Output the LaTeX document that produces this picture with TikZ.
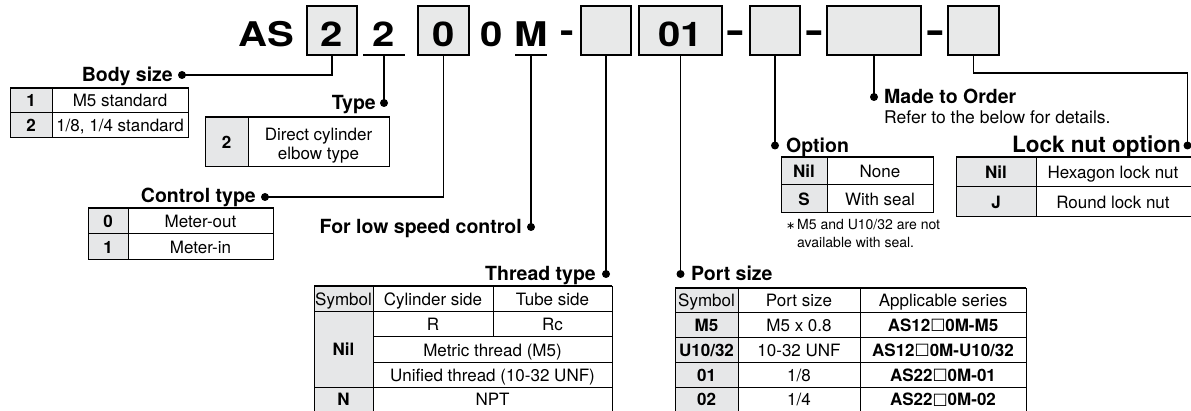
\documentclass[tikz,border=0pt]{standalone}
\usepackage{fontspec}
\setmainfont{TeX Gyre Heros}
\newfontfamily\symf{DejaVu Sans}
\definecolor{boxgray}{HTML}{E8E9E9}
\definecolor{cellgray}{HTML}{E6E7E8}
\newcounter{tn}
\newcommand\tx[4]{\stepcounter{tn}\node[#1,anchor=base] (tx\thetn) at (#2,{#3+6.1}) {#4};}
\newcommand\sq{{\symf\fontsize{16}{16}\selectfont\raisebox{1.6pt}{\char"25A1}}}
\begin{document}
\begin{tikzpicture}[x=1pt,y=-1pt,line join=miter,
  hbox/.style={draw,line width=2.4pt,fill=boxgray,inner sep=0,outer sep=0},
  conn/.style={line width=1.7pt},
  dotn/.style={circle,fill,inner sep=0,minimum size=8pt},
  ttl/.style={font=\fontsize{19.5}{22}\selectfont\bfseries,inner sep=0},
  big/.style={font=\fontsize{34}{34}\selectfont\bfseries,inner sep=0,anchor=base},
  tbl/.style={font=\fontsize{17}{20}\selectfont,inner sep=0},
  tblb/.style={font=\fontsize{17}{20}\selectfont\bfseries,inner sep=0},
  sml/.style={font=\fontsize{14}{16}\selectfont,inner sep=0},
  tline/.style={line width=1pt},
  ttop/.style={line width=2pt}]
\useasboundingbox (0,0) rectangle (1191,411);

% ---------- header ----------
\node[hbox,minimum width=50pt,minimum height=49pt] (b2) at (332,30.5) {};
\node[hbox,minimum width=51pt,minimum height=49pt] (b0) at (443.5,30.5) {};
\node[hbox,minimum width=50pt,minimum height=49pt] (e1) at (606,30.5) {};
\node[hbox,minimum width=83pt,minimum height=49pt] (b01) at (680.5,30.5) {};
\node[hbox,minimum width=50pt,minimum height=49pt] (e2) at (775,30.5) {};
\node[hbox,minimum width=94pt,minimum height=49pt] (e3) at (874,30.5) {};
\node[hbox,minimum width=51pt,minimum height=49pt] (e4) at (973.5,30.5) {};

\node[big] (tAS) at (266.5,47) {\scalebox{1.18}[1]{AS}};
\node[big] (t2a) at (332,47) {\scalebox{1.18}[1]{2}};
\node[big] (t2b) at (384,47) {\scalebox{1.18}[1]{2}};
\node[big] (t0a) at (443.5,47) {\scalebox{1.18}[1]{0}};
\node[big] (t0b) at (492,47) {\scalebox{1.18}[1]{0}};
\node[big] (tM) at (531,47) {\scalebox{1.18}[1]{M}};
\node[big] (t01) at (680.5,47) {\scalebox{1.18}[1]{01}};
\node[big] (h1) at (567.5,43) {\scalebox{1.2}[1]{-}};
\node[big] (h2) at (735.5,43) {\scalebox{1.6}[1]{-}};
\node[big] (h3) at (814.5,43) {\scalebox{1.6}[1]{-}};
\node[big] (h4) at (935.5,43) {\scalebox{1.6}[1]{-}};

\coordinate (u2a) at (363,55.5); \coordinate (u2b) at (405,55.5); \coordinate (u2) at (384,55.5);
\coordinate (uMa) at (515,55.5); \coordinate (uMb) at (547,55.5); \coordinate (uM) at (531,55.5);
\draw[line width=2pt] (u2a) -- (u2b);
\draw[line width=2pt] (uMa) -- (uMb);

% ---------- dots ----------
\node[dotn] (dBody) at (182,75) {};
\node[dotn] (dType) at (384,103) {};
\node[dotn] (dCtrl) at (265,197) {};
\node[dotn] (dLow) at (531,227) {};
\node[dotn] (dThread) at (606,274) {};
\node[dotn] (dPort) at (680.5,274) {};
\node[dotn] (dOpt) at (775,145.5) {};
\node[dotn] (dMade) at (874,97) {};
\node[dotn] (dLock) at (1187.5,145.5) {};
\coordinate (cLock) at (1187.5,73);

% ---------- connectors ----------
\draw[conn] (b2.south) |- (dBody.center);
\draw[conn] (u2) -- (dType.center);
\draw[conn] (b0.south) |- (dCtrl.center);
\draw[conn] (uM) -- (dLow.center);
\draw[conn] (e1.south) -- (dThread.center);
\draw[conn] (b01.south) -- (dPort.center);
\draw[conn] (e2.south) -- (dOpt.center);
\draw[conn] (e3.south) -- (dMade.center);
\draw[conn] (e4.south) |- (cLock) -- (dLock.center);

% ---------- titles ----------
\node[ttl,anchor=base east] (lBody) at (173,82) {Body size};
\node[ttl,anchor=base east] (lType) at (376,110) {Type};
\node[ttl,anchor=base east] (lCtrl) at (256,203) {Control type};
\node[ttl,anchor=base east] (lLow) at (522,233.5) {For low speed control};
\node[ttl,anchor=base east] (lThread) at (596,281) {Thread type};
\node[ttl,anchor=base west] (lPort) at (691,281) {Port size};
\node[ttl,anchor=base west] (lOpt) at (786,152.5) {Option};
\node[ttl,anchor=base west] (lMade) at (884,103.5) {Made to Order};
\node[font=\fontsize{17.5}{20}\selectfont,inner sep=0,anchor=base west] (lRefer) at (884,123.5) {Refer to the below for details.};
\node[font=\fontsize{22.5}{24}\selectfont\bfseries,inner sep=0,anchor=base east] (lLock) at (1181,152.5) {Lock nut option};

% ---------- Body size table ----------
\fill[cellgray] (10,88) rectangle (52,138);
\draw[tline] (10,88) rectangle (188,138) (52,88) -- (52,138) (10,113) -- (188,113);
\draw[ttop] (10,88) -- (188,88);
\tx{tblb}{31}{100.5}{1} \tx{tbl}{120}{100.5}{M5 standard}
\tx{tblb}{31}{125.5}{2} \tx{tbl}{120}{125.5}{1/8, 1/4 standard}

% ---------- Type table ----------
\fill[cellgray] (205,117) rectangle (248,167);
\draw[tline] (205,117) rectangle (389,167) (248,117) -- (248,167);
\draw[ttop] (205,117) -- (389,117);
\tx{tblb}{226.5}{142}{2}
\tx{tbl}{318.5}{134.5}{Direct cylinder}
\tx{tbl}{318.5}{153.5}{elbow type}

% ---------- Control type table ----------
\fill[cellgray] (88,208) rectangle (128,260);
\draw[tline] (88,208) rectangle (273,260) (128,208) -- (128,260) (88,234) -- (273,234);
\draw[ttop] (88,208) -- (273,208);
\tx{tblb}{108}{221}{0} \tx{tbl}{200.5}{221}{Meter-out}
\tx{tblb}{108}{247}{1} \tx{tbl}{200.5}{247}{Meter-in}

% ---------- Thread type table ----------
\fill[cellgray] (314,286) rectangle (373,413);
\draw[tline] (314,286) -- (314,413) (612,286) -- (612,413)
  (373,286) -- (373,413) (493,286) -- (493,337)
  (314,312) -- (612,312) (373,337) -- (612,337) (373,363) -- (612,363)
  (314,387) -- (612,387);
\draw[ttop] (314,286) -- (612,286);
\tx{tbl}{343.5}{299}{Symbol} \tx{tbl}{433}{299}{Cylinder side} \tx{tbl}{552.5}{299}{Tube side}
\tx{tbl}{433}{324.5}{R} \tx{tbl}{552.5}{324.5}{Rc}
\tx{tblb}{343.5}{349.5}{Nil}
\tx{tbl}{492.5}{350}{Metric thread (M5)}
\tx{tbl}{492.5}{375}{Unified thread (10-32 UNF)}
\tx{tblb}{343.5}{399.5}{N} \tx{tbl}{492.5}{399.5}{NPT}

% ---------- Port size table ----------
\fill[cellgray] (675,288) rectangle (738,413);
\draw[tline] (675,288) -- (675,413) (1026,288) -- (1026,413)
  (738,288) -- (738,413) (860,288) -- (860,413)
  (675,313) -- (1026,313) (675,338) -- (1026,338) (675,363) -- (1026,363) (675,387) -- (1026,387);
\draw[ttop] (675,288) -- (1026,288);
\tx{tbl}{706.5}{300.5}{Symbol} \tx{tbl}{799}{300.5}{Port size} \tx{tbl}{943}{300.5}{Applicable series}
\tx{tblb}{706.5}{325.5}{M5} \tx{tbl}{799}{325.5}{M5 x 0.8} \tx{tblb}{943}{325.5}{AS12\sq0M-M5}
\tx{tblb}{706.5}{350.5}{U10/32} \tx{tbl}{799}{350.5}{10-32 UNF} \tx{tblb}{943}{350.5}{AS12\sq0M-U10/32}
\tx{tblb}{706.5}{375}{01} \tx{tbl}{799}{375}{1/8} \tx{tblb}{943}{375}{AS22\sq0M-01}
\tx{tblb}{706.5}{399.5}{02} \tx{tbl}{799}{399.5}{1/4} \tx{tblb}{943}{399.5}{AS22\sq0M-02}

% ---------- Option table ----------
\fill[cellgray] (781,157) rectangle (827,213);
\draw[tline] (781,157) rectangle (933,213) (827,157) -- (827,213) (781,185) -- (933,185);
\draw[ttop] (781,157) -- (933,157);
\tx{tblb}{804}{171}{Nil} \tx{tbl}{880}{171}{None}
\tx{tblb}{804}{199}{S} \tx{tbl}{880}{199}{With seal}
\node[sml,anchor=base west] (nAst) at (786,230) {{\symf\fontsize{11}{12}\selectfont\char"2217}};
\node[sml,anchor=base west] (n1) at (797,230) {M5 and U10/32 are not};
\node[sml,anchor=base west] (n2) at (797,248) {available with seal.};

% ---------- Lock nut table ----------
\fill[cellgray] (956,157) rectangle (1036,217);
\draw[tline] (956,157) -- (956,217) -- (1195,217) (1036,157) -- (1036,217) (956,187) -- (1195,187);
\draw[ttop] (956,157) -- (1195,157);
\tx{tblb}{996}{172}{Nil} \tx{tbl}{1113}{172}{Hexagon lock nut}
\tx{tblb}{996}{202}{J} \tx{tbl}{1113}{202}{Round lock nut}
\end{tikzpicture}
\end{document}
